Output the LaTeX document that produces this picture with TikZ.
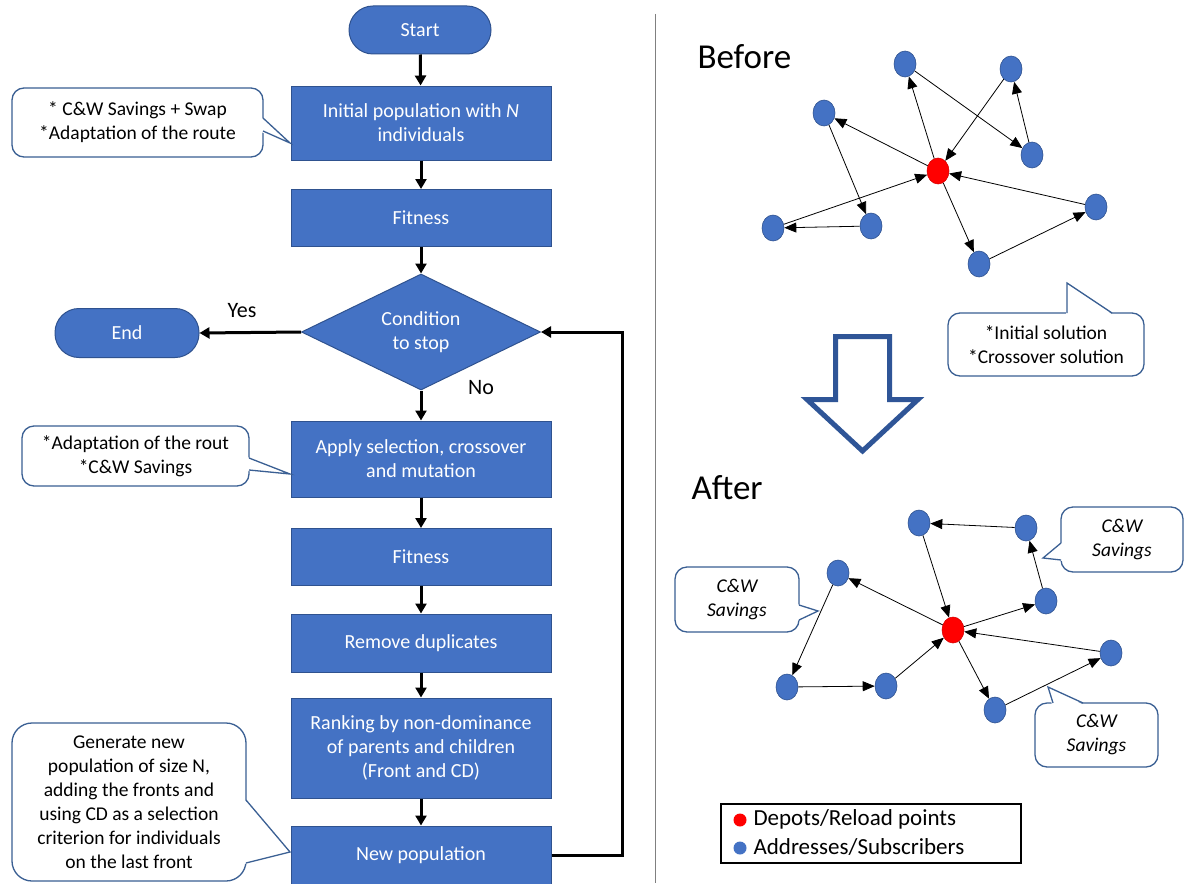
\documentclass[tikz,border=0pt]{standalone}
\usepackage{fontspec}
\setmainfont{Carlito}
\usetikzlibrary{arrows.meta,shapes.geometric,calc}
\definecolor{fcblue}{HTML}{4472C4}
\definecolor{fcborder}{HTML}{2F528F}
\definecolor{coborder}{HTML}{3A5F93}
\definecolor{bigarrow}{HTML}{2F5597}
\definecolor{edgegray}{HTML}{3A3A3A}
\begin{document}
\begin{tikzpicture}[x=1pt,y=-1pt,
  proc/.style={rectangle,fill=fcblue,draw=fcborder,line width=1pt,minimum width=260pt,text=white,align=center,font=\fontsize{20}{24}\selectfont,inner sep=2pt},
  term/.style={rectangle,rounded corners=24pt,fill=fcblue,draw=fcborder,line width=1pt,minimum width=142pt,minimum height=48pt,text=white,font=\fontsize{20}{24}\selectfont},
  dec/.style={diamond,aspect=2.06,fill=fcblue,draw=fcborder,line width=1pt,minimum width=239pt,minimum height=116pt,inner sep=0pt,text=white,align=center,font=\fontsize{20}{24}\selectfont},
  fa/.style={line width=3pt,-{Triangle[length=10pt,width=11pt]}},
  co/.style={draw=coborder,line width=1.3pt,fill=white,rounded corners=12pt,align=center,inner sep=0pt},
  coline/.style={draw=coborder,line width=1.3pt,line join=miter},
  cofont/.style={font=\fontsize{19.5}{24}\selectfont},
  coital/.style={font=\fontsize{19.5}{24}\selectfont\itshape},
  bnode/.style={ellipse,fill=fcblue,draw=fcborder,line width=0.6pt,minimum width=22pt,minimum height=26pt,inner sep=0pt},
  rnode/.style={ellipse,fill=red,draw=red!85!black,line width=0.6pt,minimum width=22pt,minimum height=26pt,inner sep=0pt},
  ge/.style={draw=edgegray,line width=0.8pt,-{Triangle[length=12pt,width=10pt]},color=black},
  lbl/.style={font=\fontsize{22}{26}\selectfont},
  title/.style={font=\fontsize{35}{40}\selectfont,anchor=west}
]
\useasboundingbox[fill=white] (0,0) rectangle (1185,883);

% separator
\draw[gray,line width=1pt] (655,14) -- (655,883);

% ---------------- flowchart ----------------
\node[term] (start) at (420,30) {Start};
\node[proc,minimum height=74pt] (init) at (421,123) {Initial population with \textit{N}\\individuals};
\node[proc,minimum height=57pt] (fit1) at (421,218) {Fitness};
\node[dec] (dia) at (421,332) {Condition\\to stop};
\node[term,minimum width=144pt,minimum height=49pt] (endn) at (127,333) {End};
\node[proc,minimum height=76pt] (apply) at (421,459) {Apply selection, crossover\\and mutation};
\node[proc,minimum height=57pt] (fit2) at (421,557) {Fitness};
\node[proc,minimum height=58pt] (remdup) at (421,643) {Remove duplicates};
\node[proc,minimum height=100pt] (rank) at (421,748) {Ranking by non-dominance\\of parents and children\\(Front and CD)};
\node[proc,minimum height=58pt] (newpop) at (421,855) {New population};

\draw[fa] (start) -- (init);
\draw[fa] (init) -- (fit1);
\draw[fa] (fit1) -- (dia);
\draw[fa] (dia.west) -- (endn.east);
\draw[fa] (dia.south) -- (apply.north);
\draw[fa] (apply) -- (fit2);
\draw[fa] (fit2) -- (remdup);
\draw[fa] (remdup) -- (rank);
\draw[fa] (rank) -- (newpop);
\draw[fa] (newpop.east) -- ++(71,0) |- (dia.east);

\node[lbl] (yes) at (242,311) {Yes};
\node[lbl] (no) at (481,388) {No};

% ---------------- callouts (flowchart) ----------------
\node[co,cofont,minimum width=251pt,minimum height=69pt] (co1) at (137.5,122.5) {* C\&W Savings + Swap\\*Adaptation of the route};
\fill[white] (261,117) -- (290,143) -- (261,132) -- cycle;
\draw[coline] (263,118) -- (290,143) -- (263,131);

\node[co,cofont,minimum width=227pt,minimum height=60pt] (co2) at (135.5,456) {*Adaptation of the rout\\*C\&W Savings};
\fill[white] (247,457) -- (290,474) -- (247,471) -- cycle;
\draw[coline] (249,458) -- (290,474) -- (249,470);

\node[co,cofont,rounded corners=20pt,minimum width=234pt,minimum height=158pt] (co3) at (129,802) {Generate new\\population of size N,\\adding the fronts and\\using CD as a selection\\criterion for individuals\\on the last front};
\fill[white] (244,799) -- (290,852) -- (244,864) -- cycle;
\draw[coline] (246,800) -- (290,852) -- (246,863);

% ---------------- Before ----------------
\node[title] (before) at (694,57) {Before};
\node[rnode] (d1) at (938,171) {};
\node[bnode] (a) at (905,64) {};
\node[bnode] (b) at (1011,69) {};
\node[bnode] (c) at (824,113) {};
\node[bnode] (d) at (1032,155) {};
\node[bnode] (e) at (1096,207) {};
\node[bnode] (f) at (871,226) {};
\node[bnode] (g) at (773,228) {};
\node[bnode] (h) at (979,264) {};
\draw[ge] (d1) -- (a);
\draw[ge] (a) -- (d);
\draw[ge] (d) -- (b);
\draw[ge] (b) -- (d1);
\draw[ge] (d1) -- (c);
\draw[ge] (c) -- (f);
\draw[ge] (f) -- (g);
\draw[ge] (g) -- (d1);
\draw[ge] (d1) -- (h);
\draw[ge] (h) -- (e);
\draw[ge] (e) -- (d1);

\node[co,cofont,minimum width=196pt,minimum height=63pt] (co4) at (1046,344.5) {*Initial solution\\*Crossover solution};
\fill[white] (1066,315) -- (1067,283) -- (1113,315) -- cycle;
\draw[coline] (1067,313) -- (1067,283) -- (1112,313);

% big hollow arrow
\draw[bigarrow,line width=5pt,fill=white,line join=miter] (835.5,336.5) -- (889.5,336.5) -- (889.5,399.5) -- (918,399.5) -- (862.5,451) -- (807,399.5) -- (835.5,399.5) -- cycle;

% ---------------- After ----------------
\node[title] (after) at (688,488) {After};
\node[rnode] (d2) at (953,630) {};
\node[bnode] (p1) at (919,523) {};
\node[bnode] (p2) at (1026,528) {};
\node[bnode] (p3) at (1046,601) {};
\node[bnode] (p4) at (838,573) {};
\node[bnode] (p5) at (787,687) {};
\node[bnode] (p6) at (886,686) {};
\node[bnode] (p7) at (1111,653) {};
\node[bnode] (p8) at (995,710) {};
\draw[ge] (p2) -- (p1);
\draw[ge] (p1) -- (d2);
\draw[ge] (d2) -- (p3);
\draw[ge] (p3) -- (p2);
\draw[ge] (d2) -- (p4);
\draw[ge] (p4) -- (p5);
\draw[ge] (p5) -- (p6);
\draw[ge] (p6) -- (d2);
\draw[ge] (d2) -- (p8);
\draw[ge] (p8) -- (p7);
\draw[ge] (p7) -- (d2);

\node[co,coital,minimum width=124pt,minimum height=65pt] (co5) at (737,599.5) {C\&W\\Savings};
\fill[white] (797,604) -- (818,611) -- (797,621) -- cycle;
\draw[coline] (799,605) -- (818,611) -- (799,620);

\node[co,coital,minimum width=122pt,minimum height=65pt] (co6) at (1122,539.5) {C\&W\\Savings};
\fill[white] (1063,542) -- (1043,558) -- (1063,561) -- cycle;
\draw[coline] (1061,543) -- (1043,558) -- (1061,560);

\node[co,coital,minimum width=123pt,minimum height=64pt] (co7) at (1096.5,735) {C\&W\\Savings};
\fill[white] (1052,705) -- (1048,687) -- (1084,705) -- cycle;
\draw[coline] (1053,703) -- (1048,687) -- (1083,703);

% ---------------- legend ----------------
\draw[black,line width=1.3pt] (721,804) rectangle (1021,863);
\node[circle,fill=red,minimum size=13pt,inner sep=0pt] (lr) at (740,820) {};
\node[circle,fill=fcblue,minimum size=13pt,inner sep=0pt] (lb) at (740,848) {};
\node[font=\fontsize{23}{27}\selectfont,anchor=west] (lrt) at (750,819) {Depots/Reload points};
\node[font=\fontsize{23}{27}\selectfont,anchor=west] (lbt) at (750,847) {Addresses/Subscribers};
\end{tikzpicture}
\end{document}
